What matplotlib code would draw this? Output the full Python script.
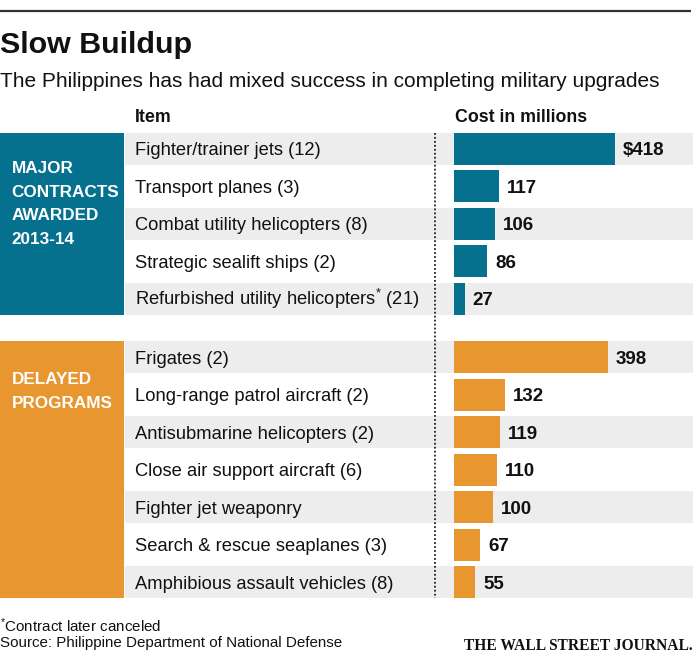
import matplotlib
matplotlib.use('Agg')
import matplotlib.pyplot as plt
from matplotlib import font_manager
from matplotlib.patches import Rectangle
import matplotlib.transforms as mtransforms

# ---------------- data ----------------
title = "Slow Buildup"
subtitle = "The Philippines has had mixed success in completing military upgrades"
header_item = "Item"
header_cost = "Cost in millions"
group_awarded = ["MAJOR", "CONTRACTS", "AWARDED", "2013-14"]
group_delayed = ["DELAYED", "PROGRAMS"]
items_awarded = ["Fighter/trainer jets (12)", "Transport planes (3)",
                 "Combat utility helicopters (8)", "Strategic sealift ships (2)",
                 "Refurbished utility helicopters$^{*}$ (21)"]
cost_awarded = [418, 117, 106, 86, 27]
items_delayed = ["Frigates (2)", "Long-range patrol aircraft (2)",
                 "Antisubmarine helicopters (2)", "Close air support aircraft (6)",
                 "Fighter jet weaponry", "Search & rescue seaplanes (3)",
                 "Amphibious assault vehicles (8)"]
cost_delayed = [398, 132, 119, 110, 100, 67, 55]
footnote = "$^{*}$Contract later canceled"
source = "Source: Philippine Department of National Defense"
credit = "THE WALL STREET JOURNAL."

# ---------------- fonts ----------------
available = {f.name for f in font_manager.fontManager.ttflist}
SANS = 'Liberation Sans' if 'Liberation Sans' in available else 'DejaVu Sans'
NARROW = 'Liberation Sans Narrow' if 'Liberation Sans Narrow' in available else SANS
SERIF = 'Liberation Serif' if 'Liberation Serif' in available else 'DejaVu Serif'
plt.rcParams['font.family'] = [SANS, 'DejaVu Sans']
plt.rcParams['mathtext.fontset'] = 'custom'
plt.rcParams['mathtext.rm'] = SANS
plt.rcParams['mathtext.it'] = SANS + ':italic'
plt.rcParams['mathtext.bf'] = SANS + ':bold'

# ---------------- style ----------------
W, H, DPI = 700, 656, 100
TEAL = '#06708F'
ORANGE = '#E8962F'
BAND = '#EDEDED'
INK = '#111111'
PITCH = 37.5
BAR_H = 32 / PITCH
X_LEFT, X_ZERO, X_RIGHT = 125, 454.3, 693
K = 0.3852  # pixels per million

fig = plt.figure(figsize=(W / DPI, H / DPI), dpi=DPI)
fig.patch.set_facecolor('white')
bg = fig.add_axes([0, 0, 1, 1])
bg.set_xlim(0, W)
bg.set_ylim(H, 0)
bg.axis('off')
bg.set_zorder(5)
bg.patch.set_visible(False)


def px_axes(x0, y0, x1, y1):
    return fig.add_axes([x0 / W, 1 - y1 / H, (x1 - x0) / W, (y1 - y0) / H])


# top rule, title, subtitle, headers
bg.plot([0, 691], [11, 11], color='#333333', lw=1.6, solid_capstyle='butt')
bg.text(0, 53.3, title, fontsize=21.9, fontweight='bold', color=INK, va='baseline')
bg.text(0, 86.7, subtitle, fontsize=15.0, color=INK, va='baseline')
bg.text(135, 121.7, header_item, fontsize=12.8, fontweight='bold', color=INK, va='baseline')
bg.text(455, 121.7, header_cost, fontsize=12.8, fontweight='bold', color=INK, va='baseline')

groups = [
    (items_awarded, cost_awarded, TEAL, 148.5, group_awarded, 173.3, True),
    (items_delayed, cost_delayed, ORANGE, 357.0, group_delayed, 384.0, False),
]

for items, costs, color, c0, glabel, gbase, dollar in groups:
    n = len(items)
    top = c0 - PITCH / 2
    bot = c0 + (n - 1) * PITCH + PITCH / 2
    ax = px_axes(X_LEFT, top, X_RIGHT, bot)
    ax.axis('off')
    ax.set_xlim(-(X_ZERO - X_LEFT) / K, (X_RIGHT - X_ZERO) / K)
    ax.set_ylim(n - 0.5, -0.5)
    for i in range(0, n, 2):
        ax.axhspan(i - BAR_H / 2, i + BAR_H / 2, color=BAND, lw=0, zorder=0)
    ys = list(range(n))
    ax.barh(ys, costs, height=BAR_H, color=color, lw=0, zorder=2)
    trans = mtransforms.blended_transform_factory(bg.transData, ax.transData)
    trans = mtransforms.offset_copy(trans, fig=fig, x=0, y=-6.8, units='dots')
    for i, (it, v) in enumerate(zip(items, costs)):
        ax.text(135, i, it, transform=trans, fontsize=13.2, color=INK,
                va='baseline', zorder=3)
        lab = ("\\$%d" % v) if (dollar and i == 0) else "%d" % v
        ax.annotate(lab, xy=(v, i), xytext=(5.6, -5.0), textcoords='offset points',
                    va='baseline', ha='left', fontsize=13.5, fontweight='bold',
                    family=[NARROW, 'DejaVu Sans'], color=INK, zorder=3)
    # group box
    bg.add_patch(Rectangle((0, top + (PITCH - 32) / 2), 124,
                           (bot - top) - (PITCH - 32), color=color, lw=0))
    for j, line in enumerate(glabel):
        bg.text(11.5, gbase + j * 23.5, line, fontsize=12.3, fontweight='bold',
                color='white', va='baseline')

# dotted divider
bg.plot([435, 435], [132.5, 598], color='#222222', lw=1.3, linestyle=(0, (1, 1.2)))

# footer
bg.text(0, 632.3, footnote, fontsize=10.9, color=INK, va='baseline')
bg.text(0, 646.7, source, fontsize=10.9, color=INK, va='baseline')
bg.text(693, 650, credit, fontsize=11.2, fontweight='bold', family=[SERIF, 'DejaVu Serif'],
        color=INK, va='baseline', ha='right')

fig.savefig('out.png', dpi=DPI)
